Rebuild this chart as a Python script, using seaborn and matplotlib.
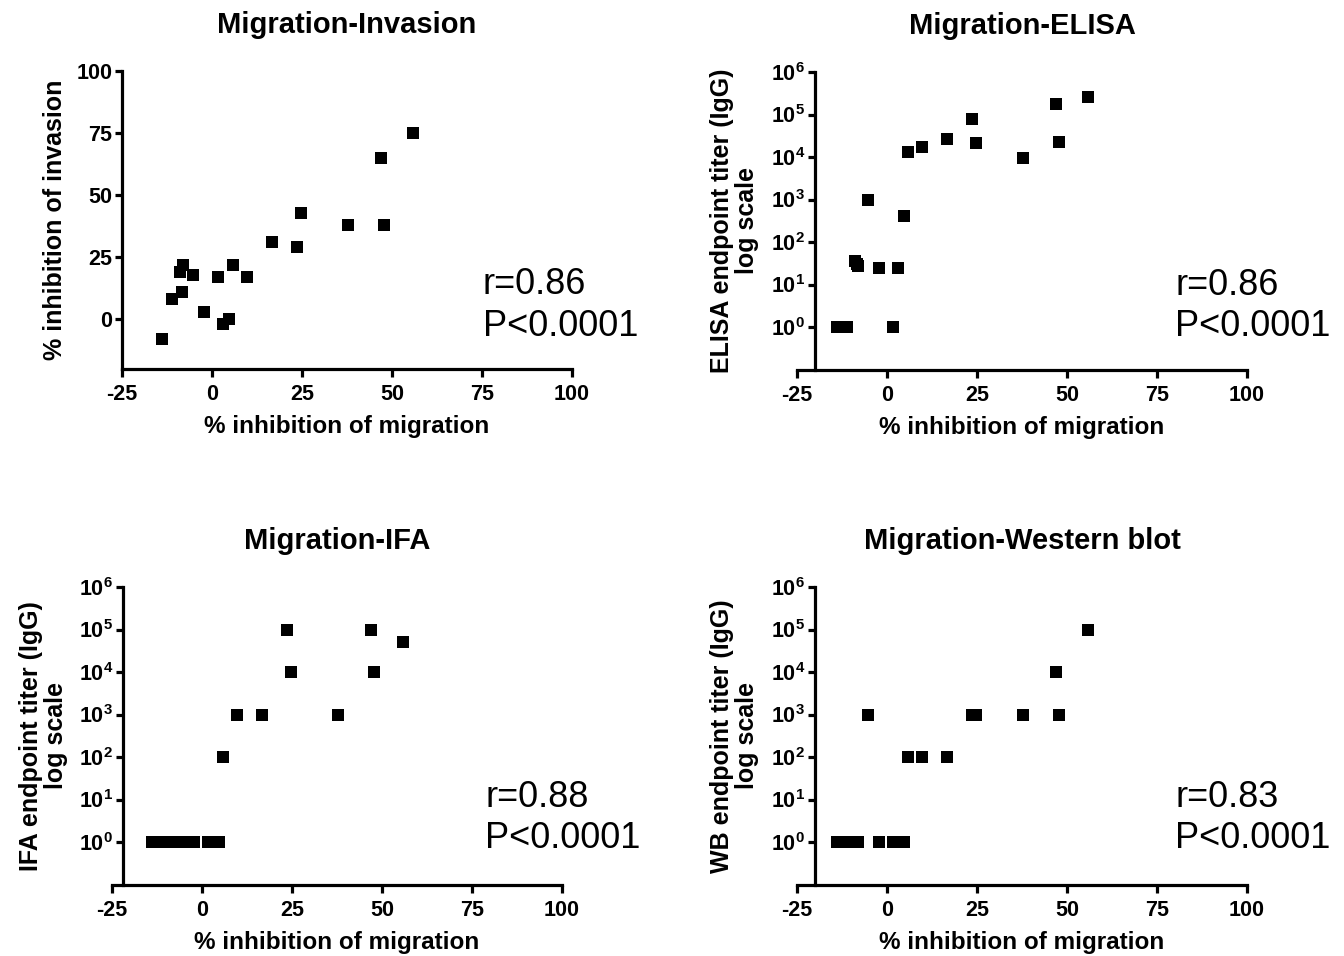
import math
import matplotlib
matplotlib.use("Agg")
import matplotlib.pyplot as plt
import matplotlib.ticker as mticker
import seaborn as sns

# % inhibition of migration, shared by all four panels
migration = [-14, -11, -9, -8, -8.3, -5.3, -2.2, 1.7, 3, 4.7,
             5.8, 9.7, 16.7, 23.6, 24.7, 37.8, 47, 47.8, 55.8]
invasion = [-8, 8, 19, 22, 11, 18, 3, 17, -2, 0,
            22, 17, 31, 29, 43, 38, 65, 38, 75]
elisa = [1, 1, 35, 27, 30, 950, 25, 1, 25, 420,
         13000, 17000, 26000, 78000, 21000, 9500, 175000, 23000, 265000]
ifa = [1, 1, 1, 1, 1, 1, 1, 1, 1, 1,
       100, 1000, 1000, 100000, 10000, 1000, 100000, 10000, 50000]
wb = [1, 1, 1, 1, 1, 1000, 1, 1, 1, 1,
      100, 100, 100, 1000, 1000, 1000, 10000, 1000, 100000]

titles = ["Migration-Invasion", "Migration-ELISA", "Migration-IFA", "Migration-Western blot"]
ylabels = ["% inhibition of invasion",
           "ELISA endpoint titer (IgG)\nlog scale",
           "IFA endpoint titer (IgG)\nlog scale",
           "WB endpoint titer (IgG)\nlog scale"]
r_values = ["r=0.86", "r=0.86", "r=0.88", "r=0.83"]
p_text = "P<0.0001"
x_ticks = [-25, 0, 25, 50, 75, 100]
lin_ticks = [0, 25, 50, 75, 100]
log_ticks = [1, 10, 100, 1000, 10000, 100000, 1000000]

sns.set_style("ticks")
plt.rcParams["font.family"] = ["Liberation Sans", "DejaVu Sans"]
plt.rcParams["mathtext.fontset"] = "custom"
plt.rcParams["mathtext.rm"] = "Liberation Sans:bold"
plt.rcParams["mathtext.bf"] = "Liberation Sans:bold"
plt.rcParams["axes.unicode_minus"] = False
plt.rcParams["text.color"] = "black"
plt.rcParams["axes.labelcolor"] = "black"

W, H = 1344, 956
fig = plt.figure(figsize=(W / 100, H / 100), dpi=100)

# pixel boxes: left, right, top, bottom
boxes = [(122, 572, 71, 369), (797, 1247, 72, 369.5),
         (112, 562, 587, 884.5), (797, 1247, 587, 884.5)]
spine_x = [-25, -20, -22, -20]
ylab_x = [-0.122, -0.085, -0.098, -0.085]
txt_x = [0.802, 0.84, 0.829, 0.84]
txt_y = [(0.282, 0.144), (0.284, 0.146), (0.294, 0.156), (0.294, 0.156)]
yvals = [invasion, elisa, ifa, wb]

for i in range(4):
    l, r, t, b = boxes[i]
    ax = fig.add_axes([l / W, (H - b) / H, (r - l) / W, (b - t) / H])
    sns.scatterplot(x=migration, y=yvals[i], ax=ax, marker="s", s=75,
                    color="black", linewidth=0, zorder=3)
    ax.set_xlim(-25, 100)
    ax.set_xticks(x_ticks)
    if i == 0:
        ax.set_ylim(-20, 100)
        ax.set_yticks(lin_ticks)
    else:
        ax.set_yscale("log")
        ax.set_ylim(0.1, 1e6)
        ax.set_yticks(log_ticks)
        ax.yaxis.set_major_formatter(
            mticker.FuncFormatter(lambda v, p: r"$\mathbf{10^{%d}}$" % round(math.log10(v))))
        ax.yaxis.set_minor_locator(mticker.NullLocator())

    for s in ["top", "right"]:
        ax.spines[s].set_visible(False)
    ax.spines["left"].set_position(("data", spine_x[i]))
    for s in ["left", "bottom"]:
        ax.spines[s].set_linewidth(2.3)
        ax.spines[s].set_color("black")
    ax.tick_params(axis="x", length=6, width=2.3, pad=5, labelsize=15.5, colors="black")
    ax.tick_params(axis="y", length=5, width=2.3, pad=2, labelsize=15.5, colors="black")
    for lab in ax.get_xticklabels() + ax.get_yticklabels():
        lab.set_fontweight("bold")

    ax.set_xlabel("% inhibition of migration", fontsize=17.5, fontweight="bold")
    ax.set_ylabel(ylabels[i], fontsize=18, fontweight="bold", linespacing=1.05)
    ax.xaxis.set_label_coords(0.5, -0.155)
    ax.yaxis.set_label_coords(ylab_x[i], 0.5)

    ax.text(0.5, 1.155, titles[i], transform=ax.transAxes, ha="center", va="center",
            fontsize=21, fontweight="bold")
    ax.text(txt_x[i], txt_y[i][0], r_values[i], transform=ax.transAxes,
            ha="left", va="center", fontsize=26)
    ax.text(txt_x[i], txt_y[i][1], p_text, transform=ax.transAxes,
            ha="left", va="center", fontsize=26)
    ax.patch.set_alpha(0)

fig.savefig("out.png", dpi=100, facecolor="white")
